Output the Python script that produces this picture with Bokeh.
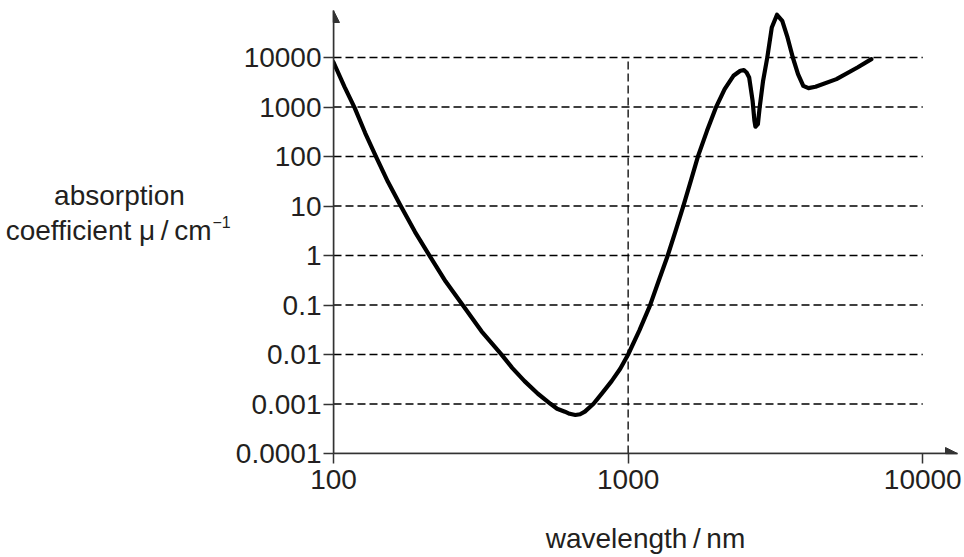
from bokeh.plotting import figure
from bokeh.layouts import row
from bokeh.models import (Range1d, FixedTicker, CustomJSTickFormatter, Arrow,
                          NormalHead, Label)
from bokeh.embed import file_html
from bokeh.resources import INLINE

# ---- data ----
x_ticks = [100, 1000, 10000]
x_tick_labels = ["100", "1000", "10000"]
y_ticks = [0.0001, 0.001, 0.01, 0.1, 1, 10, 100, 1000, 10000]
y_tick_labels = ["0.0001", "0.001", "0.01", "0.1", "1", "10", "100", "1000", "10000"]

wavelength_nm = [100, 109, 118, 128, 139, 153, 169, 189, 211, 240,
                 274, 318, 370, 404, 445, 494, 545, 574, 610, 633,
                 662, 687, 713, 763, 815, 879, 940, 1000, 1092, 1185,
                 1270, 1362, 1449, 1540, 1632, 1728, 1852, 1986, 2126, 2277,
                 2403, 2471, 2524, 2575, 2645, 2683, 2704, 2756, 2795, 2871,
                 2967, 3073, 3201, 3335, 3475, 3622, 3772, 3930, 4094, 4325,
                 5094, 6002, 6692]
absorption = [8000, 2560, 960, 301, 103, 30.8, 10.1, 3.01, 1.03, 0.301,
              0.101, 0.0294, 0.0103, 0.00538, 0.0029, 0.00161, 0.00101, 0.0008, 0.0007, 0.000634,
              0.0006, 0.00062, 0.0007, 0.00101, 0.00164, 0.0029, 0.00514, 0.01, 0.0308, 0.096,
              0.308, 0.99, 3.16, 10.1, 32.3, 103, 330, 980, 2300, 4270,
              5390, 5560, 4980, 3940, 1340, 530, 400, 450, 980, 3380,
              10000, 40400, 72900, 55100, 25400, 10000, 4620, 2680, 2410, 2560,
              3660, 6280, 9290]

x_title = "wavelength\u2009/\u2009nm"
y_title_1 = "absorption"
y_title_2 = "coefficient \u03bc\u2009/\u2009cm"
y_title_sup = "\u22121"

FONT = "Liberation Sans"
TXT = "#231f20"
AX = "#333333"

X_END = 13118
Y_END = 89030
H = 557
TOP = 10
BOTTOM = 104
FRAME_H = H - TOP - BOTTOM
LEFT_W = 232
AXIS_W = 101

# ---- left strip holding the horizontal y-axis title (frame aligned with main frame) ----
t = figure(width=LEFT_W, height=H, x_range=Range1d(0, LEFT_W), y_range=Range1d(0, FRAME_H),
           x_axis_location=None, y_axis_location=None,
           output_backend="svg", toolbar_location=None,
           min_border_left=0, min_border_right=0, min_border_top=TOP, min_border_bottom=BOTTOM)
t.grid.visible = False
t.outline_line_color = None
t.add_layout(Label(x=119, y=TOP + FRAME_H - 195, text=y_title_1, text_font=FONT,
                   text_font_size="28px", text_color=TXT, text_align="center",
                   text_baseline="alphabetic"))
t.add_layout(Label(x=211, y=TOP + FRAME_H - 230, text=y_title_2, text_font=FONT,
                   text_font_size="28px", text_color=TXT, text_align="right",
                   text_baseline="alphabetic"))
t.add_layout(Label(x=212, y=TOP + FRAME_H - 221, text=y_title_sup, text_font=FONT,
                   text_font_size="16px", text_color=TXT, text_align="left",
                   text_baseline="alphabetic"))

# ---- main chart ----
p = figure(width=964 - LEFT_W, height=H, x_axis_type="log", y_axis_type="log",
           x_range=Range1d(x_ticks[0], X_END), y_range=Range1d(y_ticks[0], Y_END),
           output_backend="svg", toolbar_location=None,
           min_border_left=AXIS_W, min_border_right=964 - LEFT_W - AXIS_W - 624,
           min_border_top=TOP, min_border_bottom=BOTTOM)
p.outline_line_color = None
p.xgrid.visible = False
p.ygrid.visible = False

fmt_code = """
const i = tvals.findIndex(t => Math.abs(Math.log10(t) - Math.log10(tick)) < 1e-6);
return i >= 0 ? tlabels[i] : "";
"""
p.xaxis.ticker = FixedTicker(ticks=x_ticks)
p.xaxis.formatter = CustomJSTickFormatter(args=dict(tvals=x_ticks, tlabels=x_tick_labels), code=fmt_code)
p.yaxis.ticker = FixedTicker(ticks=y_ticks)
p.yaxis.formatter = CustomJSTickFormatter(args=dict(tvals=y_ticks, tlabels=y_tick_labels), code=fmt_code)

for ax in (p.xaxis, p.yaxis):
    ax.axis_line_color = AX
    ax.axis_line_width = 1.5
    ax.major_tick_line_color = AX
    ax.major_tick_line_width = 1.5
    ax.major_tick_out = 10
    ax.major_tick_in = 0
    ax.minor_tick_line_color = None
    ax.major_label_text_font = FONT
    ax.major_label_text_font_size = "28px"
    ax.major_label_text_color = TXT
p.yaxis.major_label_standoff = 2
p.xaxis.major_label_standoff = 6

p.xaxis.axis_label = x_title
p.xaxis.axis_label_text_font = FONT
p.xaxis.axis_label_text_font_size = "28px"
p.xaxis.axis_label_text_font_style = "normal"
p.xaxis.axis_label_text_color = TXT
p.xaxis.axis_label_standoff = 31

# dashed guide lines
grid_vals = y_ticks[1:]
p.segment(x0=[x_ticks[0]] * len(grid_vals), x1=[x_ticks[-1]] * len(grid_vals),
          y0=grid_vals, y1=grid_vals, line_color="black", line_width=1.3, line_dash="8 4")
p.segment(x0=[x_ticks[1]], x1=[x_ticks[1]], y0=[y_ticks[0]], y1=[y_ticks[-1]],
          line_color="black", line_width=1.3, line_dash="8 4")

# curve
p.line(x=wavelength_nm, y=absorption, line_color="black", line_width=4.2,
       line_join="round", line_cap="round")

# axis arrows
p.add_layout(Arrow(end=NormalHead(size=12, fill_color=AX, line_color=AX, line_width=1),
                   x_start=x_ticks[0], y_start=y_ticks[0], x_end=X_END, y_end=y_ticks[0],
                   line_color=AX, line_width=1.5))
p.add_layout(Arrow(end=NormalHead(size=12, fill_color=AX, line_color=AX, line_width=1),
                   x_start=x_ticks[0], y_start=y_ticks[0], x_end=x_ticks[0], y_end=Y_END,
                   line_color=AX, line_width=1.5))

layout = row(t, p)
open("out.html", "w").write(file_html(layout, INLINE))
